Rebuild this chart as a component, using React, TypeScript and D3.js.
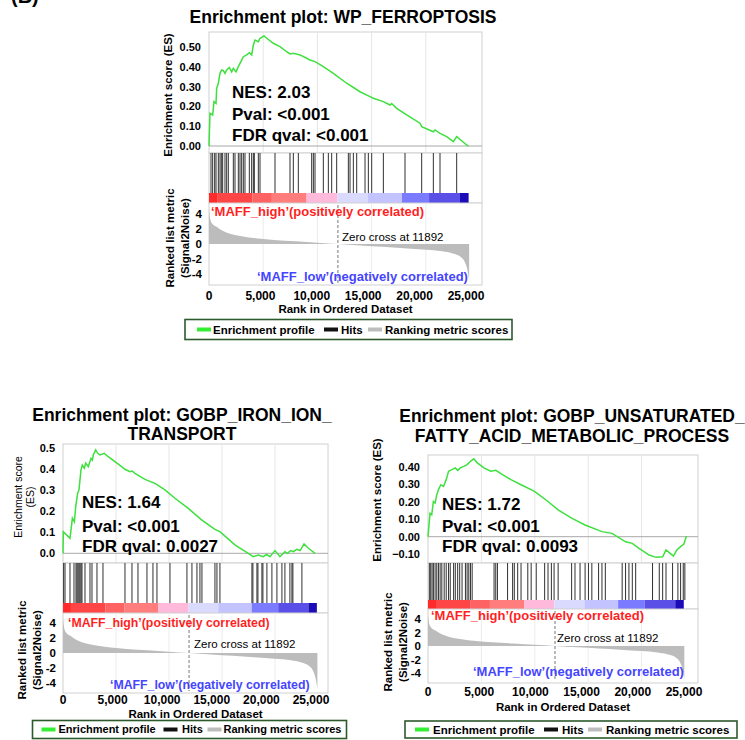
import React from 'react';
import * as d3 from 'd3';

const FONT = '"Liberation Sans", Arial, Helvetica, sans-serif';

// ranked list metric (Signal2Noise), same ranked list for all three plots
const metricRank = [0, 100, 300, 700, 1200, 2000, 3000, 4500, 6000, 8000, 10000, 11892, 14000, 16000, 18000, 20000, 21500, 22500, 23200, 23600, 23850, 24000];
const metricValue = [4.6, 3.4, 2.7, 2.3, 1.8, 1.35, 1.05, 0.75, 0.55, 0.36, 0.17, 0, -0.2, -0.38, -0.55, -0.75, -0.95, -1.25, -1.7, -2.4, -3.5, -4.8];
const zeroCross = 11892;
const rankTicks = [0, 5000, 10000, 15000, 20000, 25000];

// red -> blue heat bar under the hits
const colorBreaks = [0, 750, 4000, 5800, 9000, 11850, 14650, 17800, 20300, 23150, 23950];
const colorBar = ['#ff2b2b', '#ff4646', '#ff6262', '#ff7d7d', '#ffb9da', '#dadaff', '#c3c3ff', '#7b7bff', '#5a50e8', '#1c0cb8'];

// WP_FERROPTOSIS
const ferroRank = [0, 90, 338, 461, 646, 707, 861, 1015, 1169, 1322, 1476, 1630, 1876, 2091, 2245, 2491, 2706, 3014, 3168, 3475, 3721, 3936, 4090, 4244, 4551, 4705, 5074, 5320, 5935, 6550, 7165, 7473, 7780, 8395, 9010, 9318, 9779, 10548, 11470, 12700, 13930, 14853, 15160, 16083, 16698, 16852, 17313, 18235, 19465, 19619, 20695, 20849, 21310, 21925, 22540, 22848, 23770, 23924];
const ferroES = [0, 0.165, 0.157, 0.224, 0.215, 0.291, 0.317, 0.367, 0.384, 0.381, 0.367, 0.384, 0.397, 0.375, 0.392, 0.375, 0.401, 0.434, 0.451, 0.46, 0.471, 0.46, 0.51, 0.535, 0.527, 0.544, 0.556, 0.544, 0.519, 0.502, 0.476, 0.465, 0.468, 0.46, 0.443, 0.434, 0.426, 0.401, 0.367, 0.317, 0.274, 0.249, 0.241, 0.224, 0.207, 0.215, 0.19, 0.157, 0.115, 0.098, 0.072, 0.081, 0.064, 0.047, 0.022, 0.047, 0.005, 0];
const ferroHits = [185, 338, 523, 646, 861, 1015, 1138, 1261, 1476, 1630, 1784, 2245, 2399, 2706, 2860, 3014, 3168, 3321, 3721, 3936, 4090, 4182, 4551, 4705, 6089, 7473, 7780, 8242, 9472, 9626, 9780, 10548, 11010, 11318, 11779, 12856, 13010, 13317, 13625, 14393, 14701, 15009, 16085, 18082, 19620, 20696, 21311, 22849];
const ferroStats = ['NES: 2.03', 'Pval: <0.001', 'FDR qval: <0.001'];

// GOBP_IRON_ION_TRANSPORT
const ironRank = [0, 30, 660, 886, 1075, 1200, 1383, 1509, 1697, 1823, 2012, 2137, 2389, 2640, 2766, 2860, 3080, 3269, 3490, 3892, 4270, 5530, 5844, 6316, 6536, 6788, 7731, 8674, 9617, 10560, 11817, 13075, 14332, 14804, 16218, 17480, 17951, 18423, 18894, 19208, 19522, 20000, 20466, 20937, 21170, 21484, 21735, 22050, 22363, 22740, 23150, 23780];
const ironES = [0, 0.103, 0.071, 0.167, 0.15, 0.222, 0.286, 0.302, 0.397, 0.42, 0.405, 0.429, 0.413, 0.452, 0.444, 0.468, 0.492, 0.476, 0.468, 0.476, 0.46, 0.413, 0.4, 0.389, 0.392, 0.381, 0.352, 0.333, 0.302, 0.262, 0.214, 0.159, 0.114, 0.103, 0.04, 0, -0.016, -0.008, -0.016, -0.005, -0.016, 0.013, -0.016, 0.008, 0, 0.013, 0.008, 0.019, 0.013, 0.044, 0.024, 0];
const ironHits = [60, 189, 660, 1037, 1226, 1320, 1415, 1510, 1603, 1700, 1792, 2075, 2546, 2735, 3206, 3772, 5847, 6507, 7073, 7921, 8487, 8864, 10090, 11693, 12165, 12636, 12919, 13108, 14334, 14523, 14806, 17823, 17917, 18295, 18389, 18766, 18860, 19237, 19709, 20180, 20652, 20935, 21406, 21595, 21689, 22538];
const ironStats = ['NES: 1.64', 'Pval: <0.001', 'FDR qval: 0.0027'];

// GOBP_UNSATURATED_FATTY_ACID_METABOLIC_PROCESS
const fattyRank = [0, 189, 347, 505, 663, 821, 978, 1200, 1452, 1704, 1925, 2241, 2557, 2778, 3030, 3346, 3662, 3977, 4293, 4609, 5240, 5871, 6345, 6976, 7765, 8712, 9975, 11237, 12184, 13447, 14709, 16288, 17235, 18497, 19129, 19760, 20707, 21340, 21971, 22286, 22760, 22981, 23300, 23650, 23950, 24200];
const fattyES = [0, 0.134, 0.125, 0.201, 0.192, 0.24, 0.268, 0.297, 0.287, 0.326, 0.374, 0.383, 0.393, 0.379, 0.393, 0.402, 0.412, 0.431, 0.445, 0.422, 0.393, 0.374, 0.379, 0.355, 0.326, 0.297, 0.259, 0.201, 0.153, 0.106, 0.067, 0.029, 0.019, -0.029, -0.038, -0.067, -0.105, -0.118, -0.115, -0.076, -0.1, -0.111, -0.076, -0.057, -0.043, 0.004];
const fattyHits = [126, 253, 379, 505, 663, 821, 978, 1136, 1294, 1515, 1705, 1925, 2083, 2399, 2557, 2778, 2967, 3188, 3504, 3662, 3819, 3977, 4135, 6187, 6345, 6503, 7450, 7923, 8081, 8397, 8712, 9344, 9659, 10133, 10922, 11238, 11553, 11806, 12185, 13447, 13763, 14236, 14710, 15026, 15341, 15972, 16288, 16604, 18182, 18497, 18813, 19129, 19444, 21024, 21655, 21971, 22286, 22900, 23400, 23650, 23900, 24050];
const fattyStats = ['NES: 1.72', 'Pval: <0.001', 'FDR qval: 0.0093'];

const legendItems = ['Enrichment profile', 'Hits', 'Ranking metric scores'];
const legendColors = ['#33ee33', '#111111', '#bdbdbd'];

// page positions of each plot
const topLayout = {
  left: 209, right: 482, xEnd: 480, labelEnd: 466,
  esTop: 32, esBottom: 153, hitsBottom: 193, barBottom: 203, metricBottom: 285,
  esZeroY: 146, esRefValue: 0.5, esRefY: 47, esTicks: [0, 0.1, 0.2, 0.3, 0.4, 0.5], esFormat: '.2f',
  metricTopY: 214, metricBotY: 274,
  title: ['Enrichment plot: WP_FERROPTOSIS'], titleX: 343, titleY: [23],
  esLabel: ['Enrichment score (ES)'], esLabelX: [172], esLabelY: 95, esLabelBold: true,
  metricLabelX: [174, 189], metricLabelY: 238,
  statsX: 232, statsY: [98, 120, 141],
  highX: 211, highY: 216, lowX: 257, lowY: 281, corrSize: 13,
  zeroTextX: 342, zeroTextY: 241,
  xTickY: 300, xLabelY: 313,
  legend: { x: 185, y: 319.5, w: 327, h: 20, offs: [12, 28, 139, 156, 183, 200], size: 11.5 },
};

const ironLayout = {
  left: 63, right: 328, xEnd: 328, labelEnd: 311,
  esTop: 444, esBottom: 563, hitsBottom: 603, barBottom: 613, metricBottom: 693,
  esZeroY: 553.3, esRefValue: 0.5, esRefY: 448.3, esTicks: [0, 0.1, 0.2, 0.3, 0.4, 0.5], esFormat: '.1f',
  metricTopY: 623, metricBotY: 683,
  title: ['Enrichment plot: GOBP_IRON_ION_', 'TRANSPORT'], titleX: 182, titleY: [421, 440],
  esLabel: ['Enrichment score', '(ES)'], esLabelX: [22, 34], esLabelY: 497, esLabelBold: false,
  metricLabelX: [26, 41], metricLabelY: 650,
  statsX: 82, statsY: [508, 531.5, 551.5],
  highX: 68, highY: 626.5, lowX: 110, lowY: 689, corrSize: 12.3,
  zeroTextX: 194, zeroTextY: 648,
  xTickY: 704, xLabelY: 717.5,
  legend: { x: 32.5, y: 720.5, w: 314, h: 18, offs: [9, 26, 131, 149.5, 175, 191], size: 11 },
};

const fattyLayout = {
  left: 428, right: 698, xEnd: 695, labelEnd: 684,
  esTop: 455, esBottom: 563, hitsBottom: 600, barBottom: 609, metricBottom: 683,
  esZeroY: 536.7, esRefValue: 0.4, esRefY: 466.7, esTicks: [-0.1, 0, 0.1, 0.2, 0.3, 0.4], esFormat: '.2f',
  metricTopY: 619, metricBotY: 673,
  title: ['Enrichment plot: GOBP_UNSATURATED_', 'FATTY_ACID_METABOLIC_PROCESS'], titleX: 572, titleY: [422, 442],
  esLabel: ['Enrichment score (ES)'], esLabelX: [381], esLabelY: 500, esLabelBold: true,
  metricLabelX: [392, 407], metricLabelY: 642,
  statsX: 442, statsY: [510, 531.5, 551.5],
  highX: 431, highY: 620, lowX: 473, lowY: 675.5, corrSize: 13,
  zeroTextX: 557, zeroTextY: 641.5,
  xTickY: 696, xLabelY: 711,
  legend: { x: 405, y: 721, w: 332, h: 17, offs: [10, 28, 139, 157, 183, 201], size: 11.5 },
};

function Legend({ L }) {
  const { x, y, w, h, offs, size } = L;
  const cy = y + h / 2;
  return (
    <g>
      <rect x={x} y={y} width={w} height={h} fill="#fff" stroke="#2c5a2c" strokeWidth={1.6} />
      {legendItems.map((t, i) => (
        <g key={t}>
          <line x1={x + offs[i * 2]} x2={x + offs[i * 2] + 14} y1={cy} y2={cy} stroke={legendColors[i]} strokeWidth={4} />
          <text x={x + offs[i * 2 + 1]} y={cy + size * 0.36} fontSize={size} fontWeight="bold">{t}</text>
        </g>
      ))}
    </g>
  );
}

function EnrichmentPlot({ L, rank, es, hits, stats }) {
  const x = d3.scaleLinear().domain([0, 25000]).range([L.left, L.xEnd]);
  // tick labels sit a little left of the grid lines in the original figure
  const xl = d3.scaleLinear().domain([0, 25000]).range([L.left, L.labelEnd]);
  const y = d3.scaleLinear().domain([0, L.esRefValue]).range([L.esZeroY, L.esRefY]);
  const m = d3.scaleLinear().domain([-4, 4]).range([L.metricBotY, L.metricTopY]);
  const fmt = d3.format(L.esFormat);
  const comma = d3.format(',');

  const esLine = d3.line().x(d => x(d[0])).y(d => y(d[1]));
  const esPath = esLine(rank.map((r, i) => [r, es[i]]));

  const metricArea = d3.area()
    .x(d => x(d[0]))
    .y0(m(0))
    .y1(d => m(d[1]))
    .curve(d3.curveMonotoneX);
  const areaPath = metricArea(metricRank.map((r, i) => [r, metricValue[i]]));

  const grid = rankTicks.filter(t => t > 0 && t < 25000);
  const w = L.right - L.left;

  return (
    <g>
      {/* title */}
      {L.title.map((t, i) => (
        <text key={t} x={L.titleX} y={L.titleY[i]} textAnchor="middle" fontSize={17.5} fontWeight="bold">{t}</text>
      ))}

      {/* ES panel */}
      <rect x={L.left} y={L.esTop} width={w} height={L.esBottom - L.esTop} fill="#fff" stroke="#d0d0d0" />
      {grid.map(t => (
        <line key={'g' + t} x1={x(t)} x2={x(t)} y1={L.esTop} y2={L.esBottom} stroke="#e6e6e6" />
      ))}
      <line x1={L.left} x2={L.right} y1={y(0)} y2={y(0)} stroke="#a8a8a8" />
      {L.esTicks.map(t => (
        <text key={'e' + t} x={L.left - 8} y={y(t) + 4} textAnchor="end" fontSize={11} fontWeight="bold">{fmt(t)}</text>
      ))}
      <path d={esPath} fill="none" stroke="#3ee03e" strokeWidth={1.5} />
      {stats.map((s, i) => (
        <text key={s} x={L.statsX} y={L.statsY[i]} fontSize={17} fontWeight="bold">{s}</text>
      ))}

      {/* hits */}
      <rect x={L.left} y={L.esBottom} width={w} height={L.barBottom - L.esBottom} fill="#fff" stroke="#d0d0d0" />
      {hits.map(h => (
        <line key={'h' + h} x1={x(h)} x2={x(h)} y1={L.esBottom} y2={L.hitsBottom} stroke="#1a1a1a" strokeWidth={0.9} />
      ))}
      {colorBar.map((c, i) => (
        <rect key={'c' + i} x={x(colorBreaks[i])} y={L.hitsBottom} width={x(colorBreaks[i + 1]) - x(colorBreaks[i])} height={L.barBottom - L.hitsBottom} fill={c} />
      ))}

      {/* ranked list metric */}
      <rect x={L.left} y={L.barBottom} width={w} height={L.metricBottom - L.barBottom} fill="#fff" stroke="#d0d0d0" />
      {grid.map(t => (
        <line key={'m' + t} x1={x(t)} x2={x(t)} y1={L.barBottom} y2={L.metricBottom} stroke="#ececec" />
      ))}
      <path d={areaPath} fill="#bcbcbc" />
      <line x1={x(zeroCross)} x2={x(zeroCross)} y1={L.barBottom + 2} y2={L.metricBottom - 2} stroke="#777" strokeDasharray="3,2" />
      <text x={L.zeroTextX} y={L.zeroTextY} fontSize={11.5}>Zero cross at 11892</text>
      {[4, 2, 0, -2, -4].map(t => (
        <text key={'t' + t} x={L.left - 7} y={m(t) + 4} textAnchor="end" fontSize={11.5} fontWeight="bold">{t}</text>
      ))}
      <text x={L.highX} y={L.highY} fontSize={L.corrSize} fontWeight="bold" fill="#ff1f1f">{'\u2018MAFF_high\u2019(positively correlated)'}</text>
      <text x={L.lowX} y={L.lowY} fontSize={L.corrSize} fontWeight="bold" fill="#4545ff">{'\u2018MAFF_low\u2019(negatively correlated)'}</text>

      {/* x axis */}
      {rankTicks.map(t => (
        <text key={'x' + t} x={xl(t)} y={L.xTickY} textAnchor="middle" fontSize={12} fontWeight="bold">{comma(t)}</text>
      ))}
      <text x={(L.left + L.right) / 2} y={L.xLabelY} textAnchor="middle" fontSize={11.5} fontWeight="bold">Rank in Ordered Dataset</text>

      {/* y axis labels */}
      {L.esLabel.map((t, i) => (
        <text key={t} transform={`translate(${L.esLabelX[i]},${L.esLabelY}) rotate(-90)`} textAnchor="middle"
          fontSize={L.esLabelBold ? 11.5 : 10.5} fontWeight={L.esLabelBold ? 'bold' : 'normal'}>{t}</text>
      ))}
      {['Ranked list metric', '(Signal2Noise)'].map((t, i) => (
        <text key={t} transform={`translate(${L.metricLabelX[i]},${L.metricLabelY}) rotate(-90)`} textAnchor="middle" fontSize={11.5} fontWeight="bold">{t}</text>
      ))}

      <Legend L={L.legend} />
    </g>
  );
}

export default function App() {
  return (
    <svg width={745} height={740} style={{ position: 'absolute', left: 0, top: 0, background: '#fff' }} fontFamily={FONT}>
      <text x={11} y={3} fontSize={20} fontWeight="bold">(B)</text>
      <EnrichmentPlot L={topLayout} rank={ferroRank} es={ferroES} hits={ferroHits} stats={ferroStats} />
      <EnrichmentPlot L={ironLayout} rank={ironRank} es={ironES} hits={ironHits} stats={ironStats} />
      <EnrichmentPlot L={fattyLayout} rank={fattyRank} es={fattyES} hits={fattyHits} stats={fattyStats} />
    </svg>
  );
}
